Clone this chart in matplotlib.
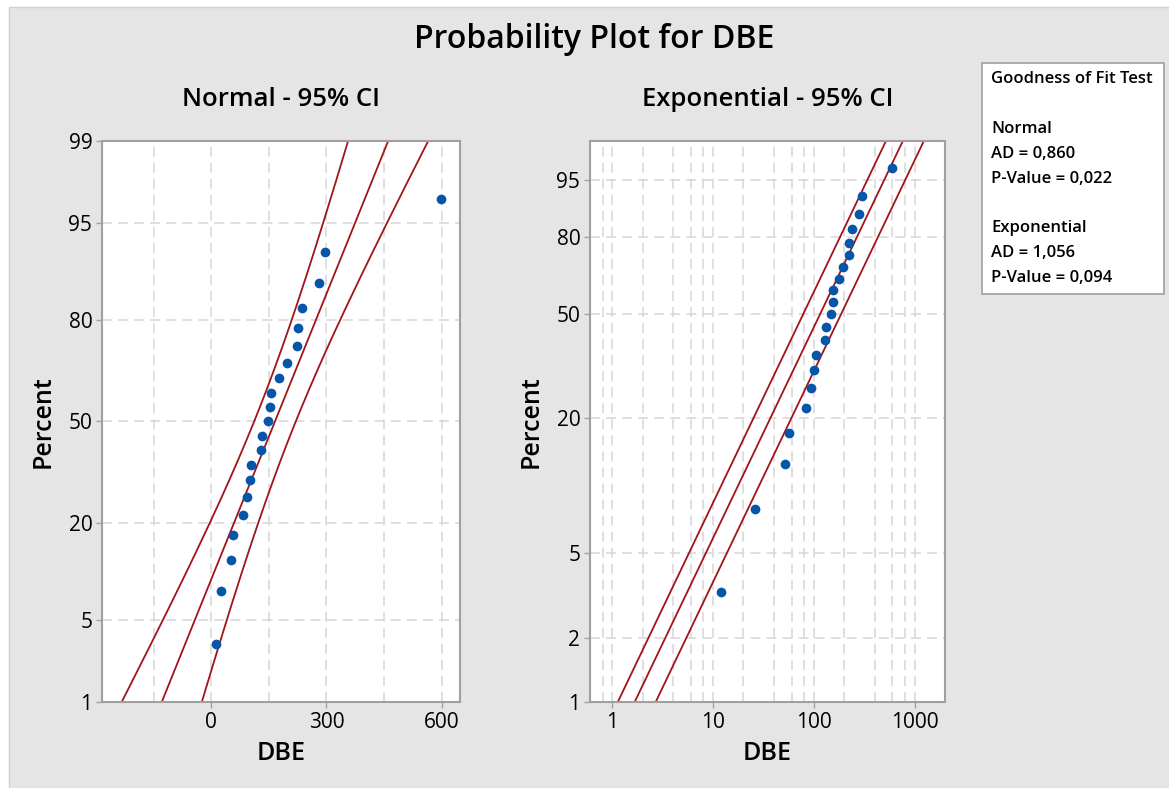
import numpy as np
import matplotlib
matplotlib.use("Agg")
import matplotlib.pyplot as plt
from matplotlib.patches import Rectangle
from statistics import NormalDist

plt.rcParams['font.family'] = ['Open Sans', 'DejaVu Sans']

# data (DBE, n = 21)
dbe = np.array([12, 26, 52, 56, 83, 94, 100, 104, 130, 133, 147,
                153, 156, 176, 196, 224, 225, 237, 281, 297, 598], dtype=float)

normal_yticks = [1, 5, 20, 50, 80, 95, 99]
normal_xticks = [0, 300, 600]
normal_xminor = [-150, 150, 450]
expo_yticks = [1, 2, 5, 20, 50, 80, 95]
expo_xticks = [1, 10, 100, 1000]
expo_xminor = [0.8, 2, 4, 6, 8, 20, 40, 60, 80, 200, 400, 600, 800]

gof_lines = ["Goodness of Fit Test", "", "Normal", "AD = 0,860", "P-Value = 0,022",
             "", "Exponential", "AD = 1,056", "P-Value = 0,094"]

point_col = '#0556a8'
line_col = '#a0141a'
grid_col = '#d6d6d6'
spine_col = '#a0a0a0'
bg_col = '#e5e5e5'

nd = NormalDist()
_inv = np.vectorize(nd.inv_cdf, otypes=[float])
_cdf = np.vectorize(nd.cdf, otypes=[float])


def probit(p):
    p = np.clip(np.asarray(p, dtype=float) / 100.0, 1e-9, 1 - 1e-9)
    return _inv(p)


def probit_inv(z):
    return _cdf(np.asarray(z, dtype=float)) * 100.0


def expo_fwd(p):
    p = np.clip(np.asarray(p, dtype=float) / 100.0, 1e-12, 1 - 1e-12)
    return np.log10(-np.log1p(-p))


def expo_inv(u):
    return 100.0 * (1.0 - np.exp(-10.0 ** np.asarray(u, dtype=float)))


def chi2_ppf(q, k):
    # Wilson-Hilferty approximation
    z = nd.inv_cdf(q)
    a = 2.0 / (9.0 * k)
    return k * (1 - a + z * np.sqrt(a)) ** 3


n = len(dbe)
x_sorted = np.sort(dbe)
ranks = np.arange(1, n + 1)
pct = (ranks - 0.3) / (n + 0.4) * 100  # median ranks

# fits
mu = dbe.mean()
sd = dbe.std(ddof=1)
theta = dbe.mean()
z975 = nd.inv_cdf(0.975)

p_grid = np.linspace(0.3, 99.7, 400)
zp = probit(p_grid)
norm_fit = mu + sd * zp
norm_se = sd * np.sqrt(1.0 / n + zp ** 2 / (2.0 * n))
norm_lo = norm_fit - z975 * norm_se
norm_hi = norm_fit + z975 * norm_se

q_grid = -np.log1p(-p_grid / 100.0)
exp_fit = theta * q_grid
exp_lo = exp_fit * 2 * n / chi2_ppf(0.975, 2 * n)
exp_hi = exp_fit * 2 * n / chi2_ppf(0.025, 2 * n)

fig = plt.figure(figsize=(11.69, 7.88), dpi=100)
fig.patch.set_facecolor('white')
fig.patches.append(Rectangle((9 / 1169, 0), 1, 1 - 7 / 788, transform=fig.transFigure,
                             facecolor=bg_col, edgecolor='#cfcfcf', lw=1, zorder=-10))

ax1 = fig.add_axes([102 / 1169, 1 - 702 / 788, 358 / 1169, 561 / 788])
ax2 = fig.add_axes([590 / 1169, 1 - 702 / 788, 355 / 1169, 561 / 788])


def style(ax):
    ax.set_facecolor('white')
    for s in ax.spines.values():
        s.set_color(spine_col)
        s.set_linewidth(1.5)
    ax.tick_params(which='major', length=4, width=1, color=spine_col, labelsize=15, pad=3)
    ax.tick_params(which='minor', length=0)
    for lab in ax.get_xticklabels() + ax.get_yticklabels():
        lab.set_fontweight('medium')
    ax.grid(True, which='both', color=grid_col, lw=1.1, linestyle=(0, (6.5, 4)))
    ax.set_axisbelow(True)


# normal panel
ax1.set_yscale('function', functions=(probit, probit_inv))
ax1.set_ylim(1, 99)
ax1.set_xlim(-285, 648)
ax1.set_yticks(normal_yticks)
ax1.set_yticklabels([str(t) for t in normal_yticks])
ax1.set_xticks(normal_xticks)
ax1.set_xticks(normal_xminor, minor=True)
ax1.yaxis.set_minor_locator(matplotlib.ticker.NullLocator())
style(ax1)
for xs in (norm_lo, norm_fit, norm_hi):
    ax1.plot(xs, p_grid, color=line_col, lw=1.3, zorder=2)
ax1.plot(x_sorted, pct, 'o', color=point_col, ms=7, mec='none', zorder=3)
ax1.set_title("Normal - 95% CI", fontsize=18.5, fontweight='semibold', pad=25)
ax1.set_xlabel("DBE", fontsize=18, fontweight='semibold', labelpad=6)
ax1.set_ylabel("Percent", fontsize=18, fontweight='semibold', labelpad=9)

# exponential panel
ax2.set_xscale('log')
ax2.set_yscale('function', functions=(expo_fwd, expo_inv))
ax2.set_ylim(1, 99)
ax2.set_xlim(0.6, 2000)
ax2.set_yticks(expo_yticks)
ax2.set_yticklabels([str(t) for t in expo_yticks])
ax2.yaxis.set_minor_locator(matplotlib.ticker.NullLocator())
ax2.set_xticks(expo_xticks)
ax2.set_xticklabels([str(t) for t in expo_xticks])
ax2.set_xticks(expo_xminor, minor=True)
ax2.xaxis.set_minor_formatter(matplotlib.ticker.NullFormatter())
style(ax2)
for xs in (exp_lo, exp_fit, exp_hi):
    ax2.plot(xs, p_grid, color=line_col, lw=1.3, zorder=2)
ax2.plot(x_sorted, pct, 'o', color=point_col, ms=7, mec='none', zorder=3)
ax2.set_title("Exponential - 95% CI", fontsize=18.5, fontweight='semibold', pad=25)
ax2.set_xlabel("DBE", fontsize=18, fontweight='semibold', labelpad=6)
ax2.set_ylabel("Percent", fontsize=18, fontweight='semibold', labelpad=9)

fig.text(594 / 1169, 1 - 40 / 788, "Probability Plot for DBE", fontsize=23,
         fontweight='semibold', ha='center', va='center')

# goodness of fit box
fig.patches.append(Rectangle((982 / 1169, 1 - 294 / 788), 182 / 1169, 231 / 788,
                             transform=fig.transFigure, facecolor='white',
                             edgecolor=spine_col, lw=1.2, zorder=1))
for i, line in enumerate(gof_lines):
    if line:
        fig.text(991 / 1169, 1 - (79 + 24.9 * i) / 788, line, fontsize=12,
                 fontweight='semibold', ha='left', va='center', zorder=2)

fig.savefig("out.png", dpi=100, facecolor=fig.get_facecolor())
